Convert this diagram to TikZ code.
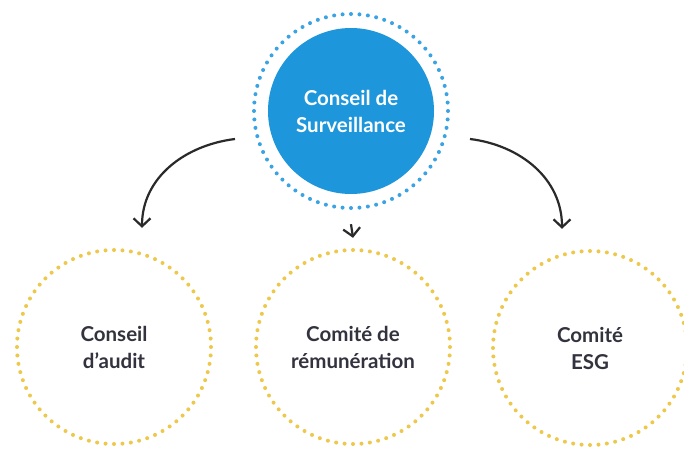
\documentclass[tikz,border=0pt]{standalone}
\usepackage{fontspec}
\setmainfont{Lato}
\usetikzlibrary{arrows.meta}

\definecolor{boardblue}{HTML}{1E96DC}
\definecolor{ringblue}{HTML}{3AA3E3}
\definecolor{ringgold}{HTML}{EDC84A}
\definecolor{labelgray}{HTML}{33333F}
\definecolor{arrowgray}{HTML}{2A2A2A}

\tikzset{
    board/.style={circle, fill=boardblue, minimum size=166pt, inner sep=0pt,
        text=white, align=center, font=\bfseries\fontsize{20.5}{27}\selectfont},
    committee/.style={circle, minimum size=194pt, inner sep=0pt,
        text=labelgray, align=center, font=\bfseries\fontsize{20.5}{27}\selectfont},
    link/.style={->, draw=arrowgray, line width=2.2pt}
}

\begin{document}
\begin{tikzpicture}[x=1pt, y=-1pt, >={Straight Barb[length=8pt, width=17pt]}]
    \useasboundingbox[fill=white] (0,0) rectangle (684,448);

    % Supervisory board on top
    \node[board] (conseil) at (351,111) {Conseil de\\Surveillance};
    \foreach \a in {0,5,...,355}
        \fill[ringblue] ([shift={(\a:97pt)}]conseil.center) circle (2);

    % Committees below
    \node[committee] (audit) at (114,347) {Conseil\\d'audit};
    \node[committee] (remu) at (353,347) {Comité de\\rémunération};
    \node[committee] (esg) at (590,348) {Comité\\ESG};
    \foreach \c in {audit, remu, esg}
        \foreach \a in {0,5,...,355}
            \fill[ringgold] ([shift={(\a:97pt)}]\c.center) circle (2);

    % Arrows out of the board
    \coordinate (conseil-l) at (235,139);
    \coordinate (conseil-r) at (470,139);
    \draw[link] (conseil-l) to[out=187, in=90] ([xshift=28pt, yshift=22pt]audit.north);
    \draw[link] ([yshift=-30pt]conseil.south) -- ([yshift=12pt]remu.north);
    \draw[link] (conseil-r) to[out=-7, in=90] ([xshift=-28pt, yshift=22pt]esg.north);
\end{tikzpicture}
\end{document}
